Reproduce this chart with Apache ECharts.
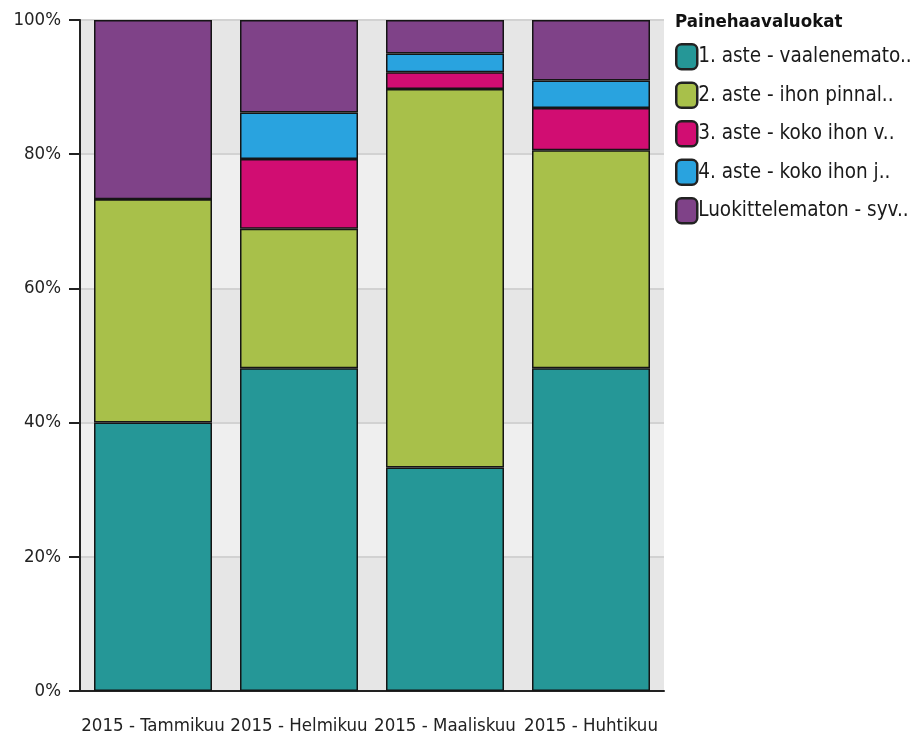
<!DOCTYPE html>
<html>
<head>
<meta charset="utf-8">
<script src="https://cdn.jsdelivr.net/npm/echarts@6/dist/echarts.min.js"></script>
<style>
  html, body { margin: 0; padding: 0; background: #fff; }
  #chart { width: 916px; height: 741px; }
</style>
</head>
<body>
<div id="chart"></div>
<script>
// Stacked 100% bars: pressure ulcer classes per month.
var months = ["2015 - Tammikuu", "2015 - Helmikuu", "2015 - Maaliskuu", "2015 - Huhtikuu"];
var classNames = [
  "1. aste - vaalenemato..",
  "2. aste - ihon pinnal..",
  "3. aste - koko ihon v..",
  "4. aste - koko ihon j..",
  "Luokittelematon - syv.."
];
// percent share per month, one array per class
var aste1 = [40.0, 48.1, 33.3, 48.1];
var aste2 = [33.3, 20.8, 56.4, 32.5];
var aste3 = [0, 10.4, 2.5, 6.3];
var aste4 = [0, 6.9, 2.8, 4.1];
var luokittelematon = [26.7, 13.8, 5.0, 9.0];
var colors = ["#259797", "#a8c04a", "#d10d72", "#29a3df", "#7f4288"];
var yTicks = [0, 20, 40, 60, 80, 100];

var FONT = "DejaVu Sans Condensed";
var seriesData = [aste1, aste2, aste3, aste4, luokittelematon];

var c = echarts.init(document.getElementById("chart"));
c.setOption({
  animation: false,
  textStyle: { fontFamily: FONT },
  title: {
    text: "Painehaavaluokat", left: 670, top: 8,
    textStyle: { fontFamily: FONT, fontWeight: "bold", fontSize: 18.5, color: "#111" }
  },
  legend: {
    orient: "vertical", left: 675, top: 43, padding: 0,
    itemWidth: 21, itemHeight: 25, itemGap: 11,
    icon: "roundRect",
    data: classNames,
    textStyle: { fontFamily: FONT, fontSize: 20.5, lineHeight: 25, color: "#1a1a1a", padding: [0, 0, 0, -4] },
    itemStyle: { borderColor: "#222", borderWidth: 2.5 }
  },
  grid: { left: 80, right: 252, top: 20, bottom: 50 },
  xAxis: {
    type: "category", data: months,
    axisLine: { lineStyle: { color: "#222", width: 2 } },
    axisTick: { alignWithLabel: true, length: 15, lineStyle: { color: "#222", width: 2 } },
    axisLabel: { margin: 26, fontSize: 18.5, color: "#222", fontFamily: FONT, interval: 0 }
  },
  yAxis: {
    type: "value", min: 0, max: 100, interval: 20,
    axisLine: { show: true, lineStyle: { color: "#222", width: 2 } },
    axisTick: { show: true, length: 11, lineStyle: { color: "#222", width: 2 } },
    axisLabel: {
      margin: 19, fontSize: 18.5, color: "#222", fontFamily: FONT,
      formatter: function (v) { return yTicks.indexOf(v) >= 0 ? v + "%" : ""; }
    },
    splitLine: { show: true, lineStyle: { color: "#d2d2d2", width: 2 } },
    splitArea: { show: true, areaStyle: { color: ["#e6e6e6", "#efefef"] } }
  },
  series: classNames.map(function (name, i) {
    return {
      name: name, type: "bar", stack: "all", barWidth: 118,
      data: seriesData[i],
      itemStyle: { color: colors[i], borderColor: "#151515", borderWidth: 1.5 }
    };
  })
});
</script>
</body>
</html>
